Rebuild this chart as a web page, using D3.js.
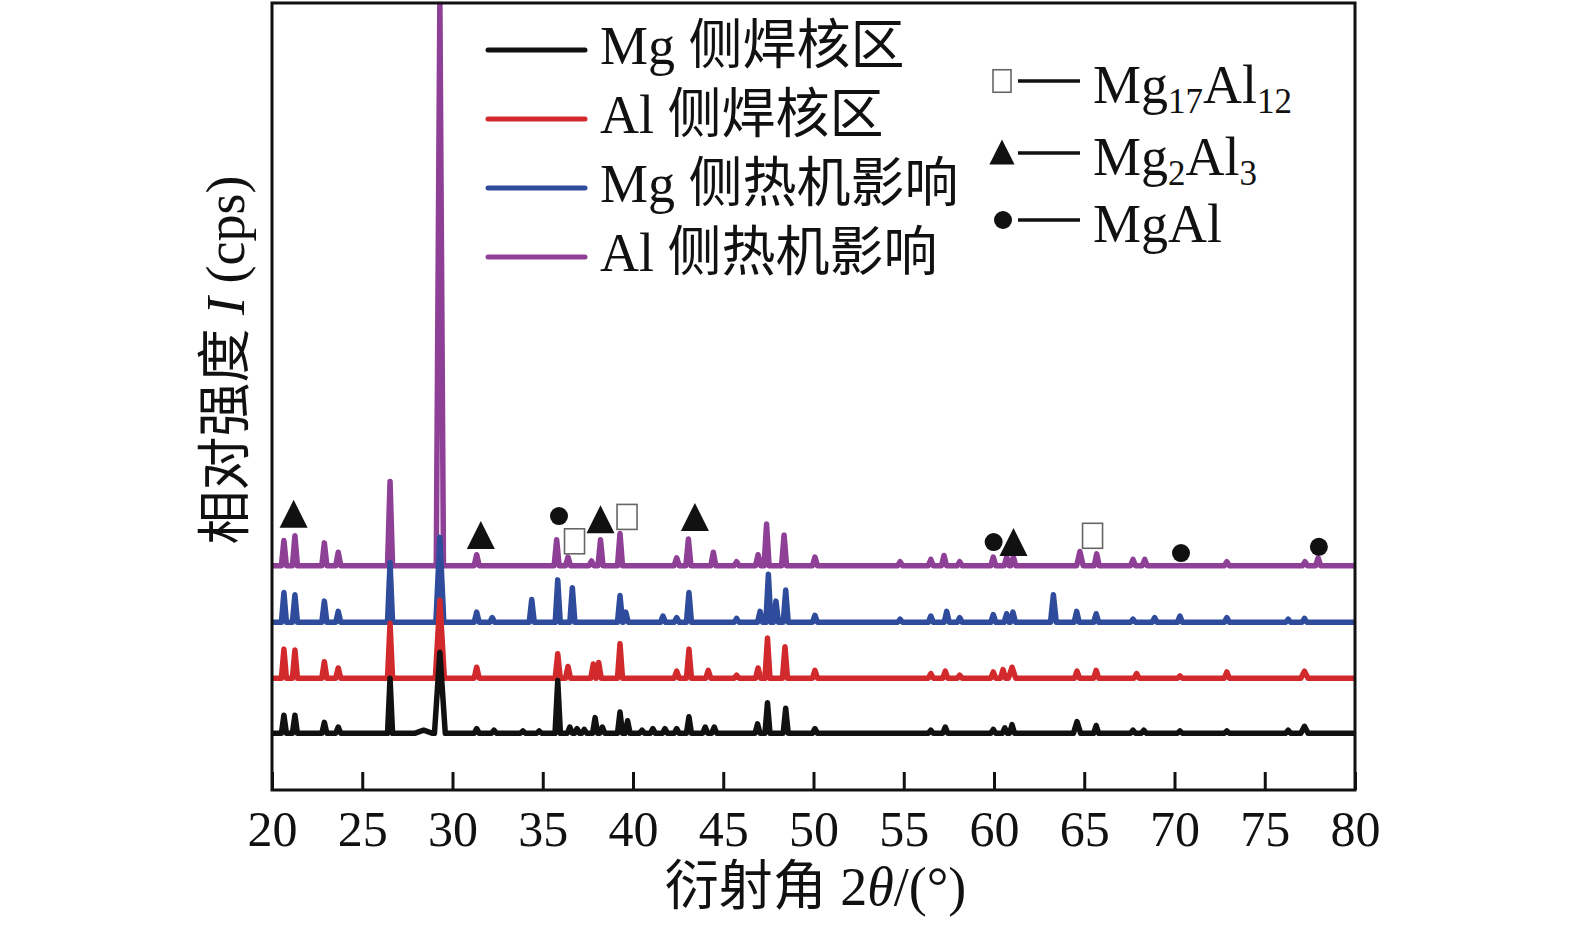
<!DOCTYPE html>
<html><head><meta charset="utf-8">
<script src="https://cdn.jsdelivr.net/npm/d3@7"></script>
<style>
html,body{margin:0;padding:0;background:#fff;}
svg text{font-family:"Liberation Serif","Times New Roman","Noto Sans CJK SC",serif;fill:#111;}
</style></head>
<body>
<svg id="chart" width="1575" height="932"></svg>
<script>
// ---------------- data ----------------
const xTicks = [20,25,30,35,40,45,50,55,60,65,70,75,80];
const seriesNames = ["Mg 侧焊核区","Al 侧焊核区","Mg 侧热机影响","Al 侧热机影响"];
const seriesBaselines = [72,142,213,285];
// peaks: [2theta, height above baseline, optional half width]
const peaksMgNugget = [[20.66,23],[21.27,23],[22.9,14],[23.67,8],[26.54,70],[28.4,4,0.5],[29.3,103,0.3],[31.34,6],[32.3,4],[33.9,3],[34.8,3],[35.83,67,0.15],[36.5,8],[36.9,6],[37.3,5],[37.9,20],[38.3,8],[39.28,27],[39.7,16],[40.5,4],[41.1,6],[41.77,6],[42.42,6],[43.1,21],[44.0,8],[44.5,8],[46.9,12],[47.45,39],[48.46,32],[50.08,6],[56.5,4],[57.3,8],[59.96,5],[60.6,7],[61.0,11],[64.6,15,0.2],[65.66,10],[67.7,4],[68.3,4],[70.3,3],[72.9,3],[76.3,4],[77.2,9,0.2]];
const peaksAlNugget = [[20.66,37],[21.27,36],[22.9,21],[23.67,13],[26.54,70],[29.3,99,0.25],[31.34,14],[35.83,31],[36.4,15],[37.8,18],[38.1,20],[39.28,44],[42.42,9],[43.1,37],[44.17,10],[45.74,4],[46.93,13],[47.45,51],[48.42,40],[50.08,10],[56.5,6],[57.3,9],[58.1,4],[59.96,8],[60.5,11],[61.0,14,0.2],[64.6,9],[65.66,10],[67.9,6],[70.3,3],[72.9,8],[77.2,9,0.2]];
const peaksMgTMAZ = [[20.66,38],[21.27,35],[22.9,27],[23.67,14],[26.54,76],[29.3,108,0.22],[31.34,13],[32.2,6],[34.39,29],[35.83,54],[36.64,44],[39.28,34],[39.6,13],[41.66,8],[42.42,6],[43.1,38],[45.74,5],[47.04,14],[47.5,61],[47.92,27],[48.46,41],[50.08,9],[54.8,4],[56.5,8],[57.38,14],[58.1,6],[59.96,10],[60.7,11],[61.05,13],[63.29,35,0.16],[64.58,14],[65.66,11],[67.7,4],[68.9,6],[70.3,8],[72.9,6],[76.3,4],[77.2,5]];
const peaksAlTMAZ = [[20.66,32],[21.27,38],[22.9,29],[23.67,17],[26.54,107],[29.3,720,0.2],[31.34,14],[35.77,33],[36.4,11],[37.7,6],[38.2,33],[39.28,41],[42.42,10],[43.07,34],[44.45,17],[45.74,5],[46.93,14],[47.4,53],[48.37,39],[50.08,11],[54.8,5],[56.5,8],[57.23,13],[58.1,5],[59.96,11],[60.7,11],[61.07,11],[64.76,18,0.18],[65.69,15],[67.7,8],[68.35,8],[72.9,5],[77.23,5],[77.96,10]];
const seriesPeaks = [peaksMgNugget, peaksAlNugget, peaksMgTMAZ, peaksAlTMAZ];

const markerTypes = ["triangle","triangle","circle","square","triangle","square","triangle","circle","triangle","square","circle","circle"];
const markerTheta = [21.2,31.57,35.9,36.76,38.2,39.67,43.43,59.98,61.08,65.46,70.36,78.0];
const markerLevel = [351,324,348,316,344,347,347,315,315,323,301,309];

const phaseTypes = ["square","triangle","circle"];
const phaseLabels = [[["Mg",""],["17","sub"],["Al",""],["12","sub"]],[["Mg",""],["2","sub"],["Al",""],["3","sub"]],[["MgAl",""]]];

// ---------------- styles ----------------
const colors = ["#111111","#d22a2c","#2f4c9c","#8e4096"];
const m = {left:272, right:1355, top:3, bottom:790};
const svg = d3.select("#chart");

const x = d3.scaleLinear().domain([20,80]).range([m.left,m.right]);
const y = d3.scaleLinear().domain([0,1000]).range([m.bottom,m.top]);

svg.append("defs").append("clipPath").attr("id","clip")
  .append("rect").attr("x",m.left).attr("y",m.top).attr("width",m.right-m.left).attr("height",m.bottom-m.top);

function buildPoints(peaks, base){
  const pts=[[20,base]];
  peaks.forEach(p=>{
    const w = p[2]||0.14;
    pts.push([p[0]-w,base],[p[0],base+p[1]],[p[0]+w,base]);
  });
  pts.push([80,base]);
  pts.sort((a,b)=>a[0]-b[0]);
  return pts;
}
const line = d3.line().x(d=>x(d[0])).y(d=>y(d[1]));

const g = svg.append("g").attr("clip-path","url(#clip)");
[3,2,1,0].forEach(i=>{
  g.append("path").datum(buildPoints(seriesPeaks[i],seriesBaselines[i]))
   .attr("d",line).attr("fill","none").attr("stroke",colors[i])
   .attr("stroke-width",5.5).attr("stroke-linejoin","round");
});

function drawMarker(sel,type,cx,cy,scale){
  scale = scale||1;
  if(type==="triangle"){
    const w=14*scale,h=28*scale;
    sel.append("path").attr("d",`M${cx},${cy-h/2}L${cx+w},${cy+h/2}L${cx-w},${cy+h/2}Z`).attr("fill","#111");
  } else if(type==="circle"){
    sel.append("circle").attr("cx",cx).attr("cy",cy).attr("r",9*scale).attr("fill","#111");
  } else {
    const w=20*scale,h=25*scale;
    sel.append("rect").attr("x",cx-w/2).attr("y",cy-h/2).attr("width",w).attr("height",h)
      .attr("fill","#fff").attr("stroke","#666").attr("stroke-width",1.6);
  }
}
markerTypes.forEach((t,i)=>drawMarker(svg,t,x(markerTheta[i]),y(markerLevel[i])));

svg.append("rect").attr("x",m.left).attr("y",m.top).attr("width",m.right-m.left).attr("height",m.bottom-m.top)
  .attr("fill","none").attr("stroke","#111").attr("stroke-width",3);

const ax = svg.append("g").attr("transform",`translate(0,${m.bottom})`)
  .call(d3.axisBottom(x).tickValues(xTicks).tickSizeInner(-18).tickSizeOuter(0).tickPadding(20).tickFormat(d3.format("d")));
ax.select(".domain").remove();
ax.selectAll(".tick line").attr("stroke","#111").attr("stroke-width",3);
ax.selectAll(".tick text").attr("font-size",50).attr("fill","#111")
  .style("font-family",'"Liberation Serif","Times New Roman",serif');

const xt = svg.append("text").attr("x",(m.left+m.right)/2+2).attr("y",905).attr("text-anchor","middle").attr("font-size",54);
xt.append("tspan").text("衍射角 2");
xt.append("tspan").attr("font-style","italic").text("θ");
xt.append("tspan").text("/(°)");

const yt = svg.append("text").attr("transform","translate(244,360) rotate(-90)").attr("text-anchor","middle").attr("font-size",54);
yt.append("tspan").text("相对强度 ");
yt.append("tspan").attr("font-style","italic").text("I");
yt.append("tspan").text(" (cps)");

const legY = [50,119,188,257];
seriesNames.forEach((n,i)=>{
  svg.append("line").attr("x1",488).attr("x2",585).attr("y1",legY[i]).attr("y2",legY[i])
    .attr("stroke",colors[i]).attr("stroke-width",5).attr("stroke-linecap","round");
  svg.append("text").attr("x",600).attr("y",legY[i]+14).attr("font-size",54).text(n);
});

const phY = [81,153,220];
phaseTypes.forEach((t,i)=>{
  drawMarker(svg,t,t==="circle"?1003:1002,phY[i]+(t==="triangle"?-1:0),t==="square"?0.9:(t==="triangle"?0.9:1));
  svg.append("line").attr("x1",1018).attr("x2",1080).attr("y1",phY[i]).attr("y2",phY[i]).attr("stroke","#111").attr("stroke-width",3.5);
  const tx = svg.append("text").attr("x",1093).attr("y",phY[i]+22).attr("font-size",54);
  phaseLabels[i].forEach(p=>{
    const s = tx.append("tspan").text(p[0]);
    if(p[1]==="sub") s.attr("font-size",35).attr("dy",10);
    else s.attr("dy",function(){return this.previousSibling?-10:0;});
  });
});
</script>
</body></html>
